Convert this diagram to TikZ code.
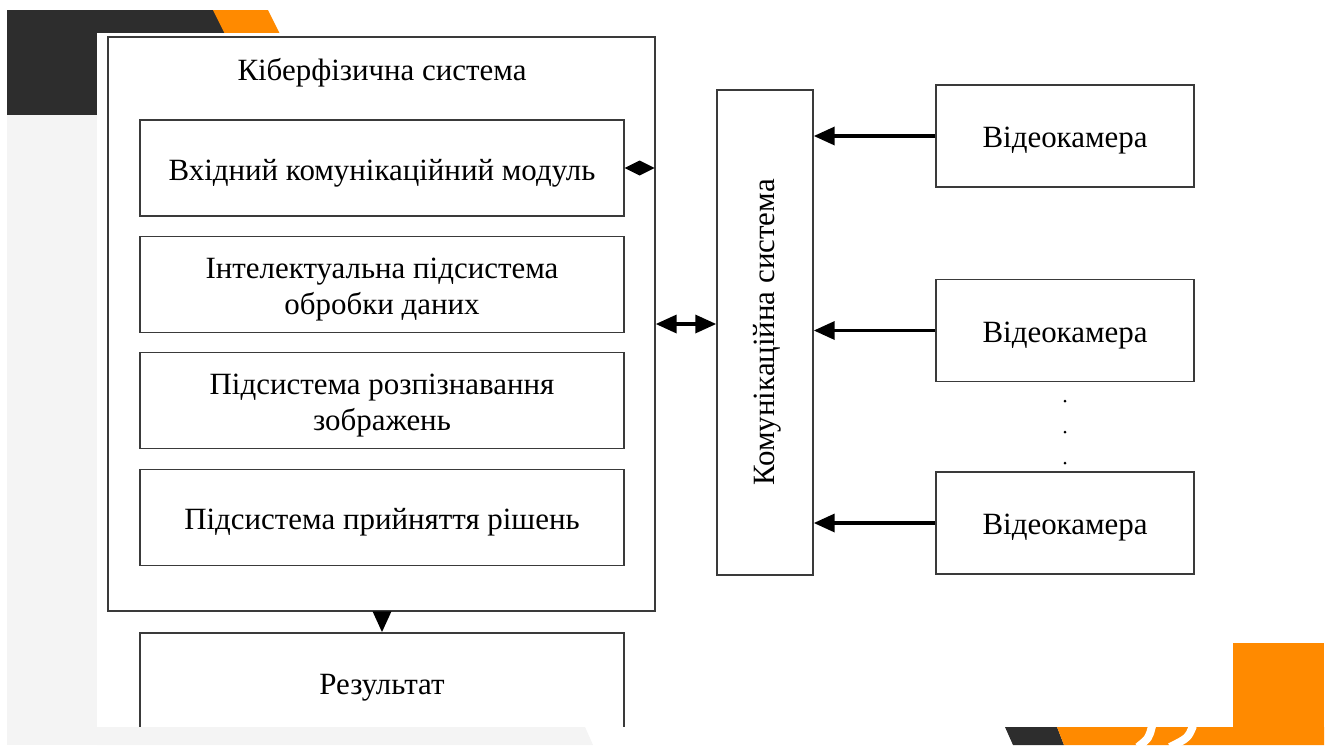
\documentclass[tikz,border=0pt]{standalone}
\usepackage{fontspec}
\setmainfont{Liberation Serif}
\usetikzlibrary{arrows.meta,calc}
\definecolor{darkband}{HTML}{2D2D2D}
\definecolor{orng}{HTML}{FF8A00}
\definecolor{lgray}{HTML}{F4F4F4}
\definecolor{linec}{HTML}{3A3A3A}
\newcommand\dfont{\fontsize{17.6}{20.3}\selectfont}
\begin{document}
\begin{tikzpicture}[x=0.02cm,y=-0.02cm,
  box/.style={draw=linec, line width=0.03cm, fill=white, inner sep=0pt},
  txt/.style={align=center, font=\dfont, inner sep=0pt, yshift=-0.1cm},
  inbox/.style={box, minimum width=9.68cm, minimum height=1.92cm},
  cambox/.style={box, minimum width=5.16cm, minimum height=2.04cm},
  arr/.style={draw=black, line width=0.07cm, -{Triangle[length=0.42cm,width=0.36cm]}},
  darr/.style={draw=black, line width=0.07cm, {Triangle[length=0.42cm,width=0.36cm]}-{Triangle[length=0.42cm,width=0.36cm]}},
  dotmark/.style={circle, fill=black, inner sep=0pt, minimum size=0.06cm}
]
\useasboundingbox (0,0) rectangle (1330,745);
\fill[white] (0,0) rectangle (1330,745);
% slide decoration, top left
\fill[darkband] (7,10) -- (214,10) -- (227,36) -- (227,115) -- (7,115) -- cycle;
\fill[orng] (213,10) -- (268,10) -- (281,36) -- (226,36) -- cycle;
\fill[lgray] (7,115) rectangle (97,745);
\fill[white] (97,33) rectangle (1330,727);

% diagram
\node[box, minimum width=10.94cm, minimum height=11.48cm] (outer) at (381.5,324) {};
\node[txt] (title) at (382,68) {Кіберфізична система};
\node[inbox] (in1) at (382,168) {};
\node[txt] (in1t) at (in1.center) {Вхідний комунікаційний модуль};
\node[inbox] (in2) at (382,284.5) {};
\node[txt] (in2t) at (in2.center) {Інтелектуальна підсистема\\обробки даних};
\node[inbox] (in3) at (382,400.5) {};
\node[txt] (in3t) at (in3.center) {Підсистема розпізнавання\\зображень};
\node[inbox] (in4) at (382,517.5) {};
\node[txt] (in4t) at (in4.center) {Підсистема прийняття рішень};

\node[box, minimum width=1.92cm, minimum height=9.7cm] (comm) at (765,332.5) {};
\node[rotate=90, font=\dfont, inner sep=0pt] (commtext) at ([xshift=0.04cm]comm.center) {Комунікаційна система};

\node[cambox] (cam1) at (1065,136) {};
\node[txt] (cam1t) at (cam1.center) {Відеокамера};
\node[cambox] (cam2) at (1065,330.5) {};
\node[txt] (cam2t) at (cam2.center) {Відеокамера};
\node[cambox] (cam3) at (1065,523) {};
\node[txt] (cam3t) at (cam3.center) {Відеокамера};

\node[dotmark] (d1) at (1065,401) {};
\node[dotmark] (d2) at (1065,432) {};
\node[dotmark] (d3) at (1065,463) {};

\node[box, minimum width=9.68cm, minimum height=2.14cm] (res) at (382,686.5) {};
\node[txt] (rest) at (382,683) {Результат};

% connectors
\draw[arr] (cam1.west) -- (cam1.west -| comm.east);
\draw[arr] (cam2.west) -- (cam2.west -| comm.east);
\draw[arr] (cam3.west) -- (cam3.west -| comm.east);
\draw[darr] (outer.east) -- (outer.east -| comm.west);
\draw[arr] (res.north |- outer.south) -- (res.north);
\fill[black] (in1.east) -- ++(15,-7.5) -- ++(15,7.5) -- ++(-15,7.5) -- cycle;

% slide decoration, bottom
\fill[white] (97,727) rectangle (1330,745);
\fill[lgray] (97,727) -- (585,727) -- (593,745) -- (97,745) -- cycle;
\fill[darkband] (1005,727) -- (1057,727) -- (1064,745) -- (1013,745) -- cycle;
\fill[orng] (1057,727) -- (1324,727) -- (1324,745) -- (1064,745) -- cycle;
\fill[orng] (1233,643) rectangle (1324,727);
\draw[white, line width=0.16cm] (1152,726) .. controls (1149,738) .. (1138,747);
\draw[white, line width=0.16cm] (1193,726) .. controls (1188,738) .. (1170,747);
\end{tikzpicture}
\end{document}
